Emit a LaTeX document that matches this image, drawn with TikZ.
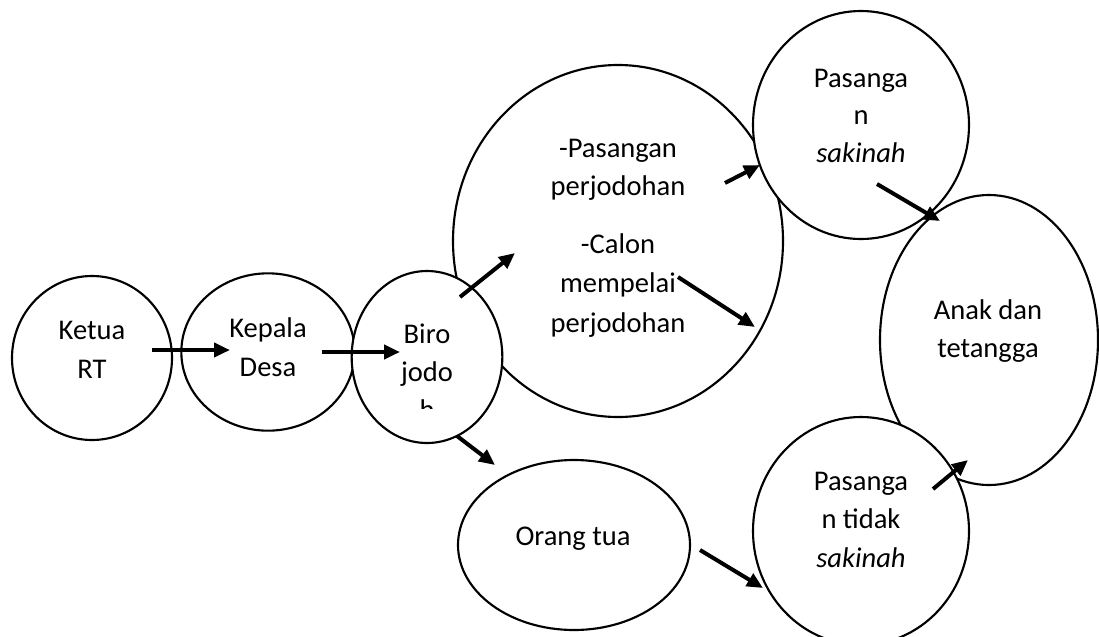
\documentclass[tikz,border=0pt]{standalone}
\usepackage{fontspec}
\setmainfont{Carlito}
\usetikzlibrary{shapes.geometric,arrows.meta}
\begin{document}
\begin{tikzpicture}[x=0.75pt,y=-0.75pt,
  bub/.style={draw, ellipse, line width=1.6pt, fill=white, inner sep=0pt},
  lbl/.style={anchor=base, inner sep=0pt, font=\fontsize{21.4pt}{29pt}\selectfont},
  arr/.style={line width=3pt, -{Triangle[length=12pt,width=10.5pt]}}]
\useasboundingbox (0,0) rectangle (1099,636);
% bubbles
\node[bub, minimum width=120pt, minimum height=123pt] (ketua) at (92,358) {};
\node[bub, minimum width=130pt, minimum height=118pt] (kepala) at (268,352) {};
\node[bub, minimum width=247.5pt, minimum height=264pt] (hasil) at (618,241) {};
\node[bub, minimum width=113pt, minimum height=129pt] (biro) at (427,357) {};
\node[bub, minimum width=174pt, minimum height=127.5pt] (ortu) at (574,545) {};
\node[bub, minimum width=162pt, minimum height=171pt] (sakinah) at (861,125) {};
\node[bub, minimum width=163.5pt, minimum height=217.5pt] (anak) at (989,340) {};
\node[bub, minimum width=162pt, minimum height=171pt] (tidak) at (861,531) {};
% texts
\node[lbl] (t1a) at (92,339) {Ketua};
\node[lbl] (t1b) at (92,378) {RT};
\node[lbl] (t2a) at (268,337) {Kepala};
\node[lbl] (t2b) at (268,376) {Desa};
\node[lbl] (t3a) at (427,343) {Biro};
\node[lbl] (t3b) at (427,381) {jodo};
\begin{scope}
  \clip (380,390) rectangle (475,408);
  \node[lbl] (t3c) at (427,419) {h};
\end{scope}
\node[lbl] (t4a) at (618,157) {-Pasangan};
\node[lbl] (t4b) at (618,195) {perjodohan};
\node[lbl] (t4c) at (618,253) {-Calon};
\node[lbl] (t4d) at (618,292) {mempelai};
\node[lbl] (t4e) at (618,332) {perjodohan};
\node[lbl] (t5a) at (861,87) {Pasanga};
\node[lbl] (t5b) at (861,124) {n};
\node[lbl] (t5c) at (861,162) {\itshape sakinah};
\node[lbl] (t6a) at (988,319) {Anak dan};
\node[lbl] (t6b) at (988,357) {tetangga};
\node[lbl] (t7a) at (573,545) {Orang tua};
\node[lbl] (t8a) at (861,490) {Pasanga};
\node[lbl] (t8b) at (861,528) {n tidak};
\node[lbl] (t8c) at (861,567) {\itshape sakinah};
% arrow end points
\coordinate (a1s) at (152,350); \coordinate (a1e) at (230,350);
\coordinate (a2s) at (322,352); \coordinate (a2e) at (400,352);
\coordinate (a3s) at (460,297); \coordinate (a3e) at (515,253);
\coordinate (a4s) at (457,436); \coordinate (a4e) at (495,465);
\coordinate (a5s) at (725,183); \coordinate (a5e) at (760,165);
\coordinate (a6s) at (678,277); \coordinate (a6e) at (755,327);
\coordinate (a7s) at (700,550); \coordinate (a7e) at (763,588);
\coordinate (a8s) at (877,184); \coordinate (a8e) at (940,221);
\coordinate (a9s) at (933,489); \coordinate (a9e) at (968,460);
\draw[arr] (a1s) -- (a1e);
\draw[arr] (a2s) -- (a2e);
\draw[arr] (a3s) -- (a3e);
\draw[arr] (a4s) -- (a4e);
\draw[arr] (a5s) -- (a5e);
\draw[arr] (a6s) -- (a6e);
\draw[arr] (a7s) -- (a7e);
\draw[arr] (a8s) -- (a8e);
\draw[arr] (a9s) -- (a9e);
\end{tikzpicture}
\end{document}
